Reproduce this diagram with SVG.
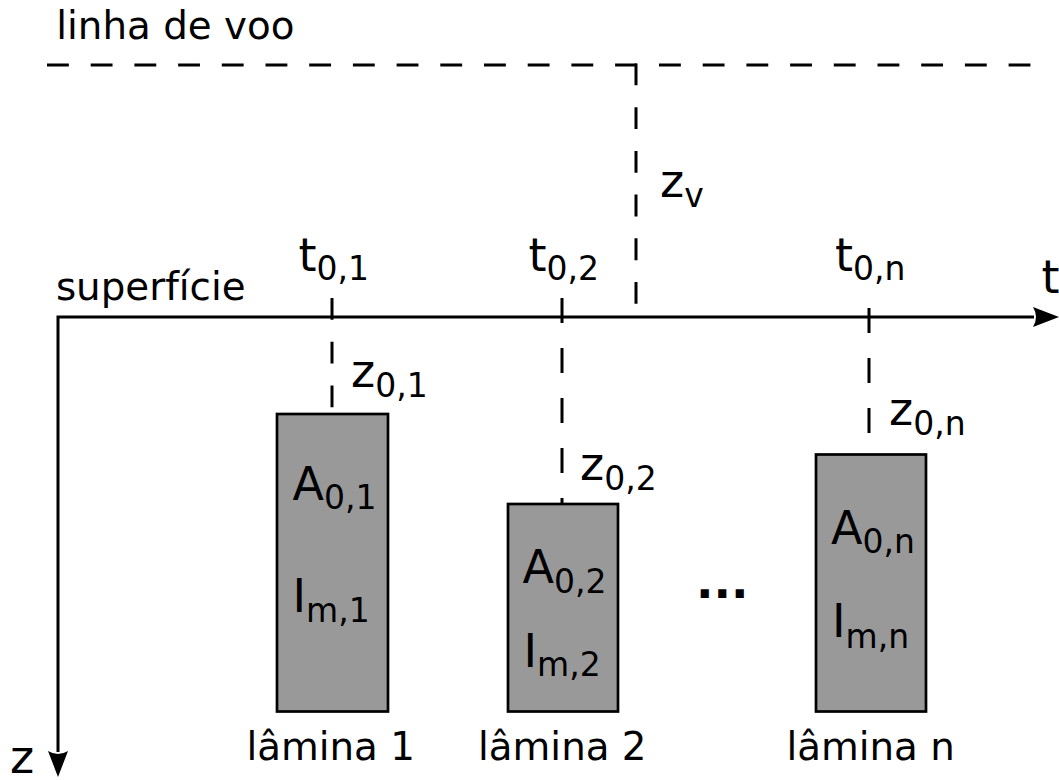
<svg xmlns="http://www.w3.org/2000/svg" width="1059" height="780" viewBox="0 0 1059 780">
<style>
  text { font-family: "DejaVu Sans", "Liberation Sans", sans-serif; fill: #000; }
  .lbl { font-size: 38.8px; }
  .math { font-size: 46px; }
  .sub { font-size: 33px; }
  .dash1 { fill: none; stroke: #000; stroke-width: 3; stroke-dasharray: 21.85 21.85; }
  .dash2 { fill: none; stroke: #000; stroke-width: 3; stroke-dasharray: 25 25; }
  .axis { fill: none; stroke: #000; stroke-width: 3; }
  .blade { fill: #999999; stroke: #000; stroke-width: 2.7; }
</style>
<defs>
  <marker id="arrow" markerUnits="userSpaceOnUse" markerWidth="40" markerHeight="30" refX="0" refY="0" viewBox="-5 -15 40 30" orient="auto-start-reverse" overflow="visible">
    <path d="M-1,-10 L25,0 L-1,10 Q5,0 -1,-10 Z" fill="#000"/>
  </marker>
</defs>
<g id="connectors">
  <path id="flight-left" class="dash1" d="M47,65 H637.5"/>
  <path id="flight-drop" class="dash1" d="M636,63.5 V305"/>
  <path id="flight-right" class="dash1" d="M659,65 H1031"/>
  <path id="axes" class="axis" d="M58,752 V317 H1034" marker-start="url(#arrow)" marker-end="url(#arrow)"/>
  <path id="z01" class="dash1" d="M332,298 V414"/>
  <path id="z02" class="dash2" d="M562,298 V504"/>
  <path id="z0n" class="dash2" d="M869,308 V454"/>
</g>
<g id="labels">
  <text class="lbl" x="56.3" y="38.5">linha de voo</text>
  <text class="lbl" x="55.9" y="300">superfície</text>
  <text class="math" x="1041.5" y="293">t</text>
  <text class="math" x="10" y="773">z</text>
  <text class="math" x="660" y="197">z<tspan class="sub" dy="10">v</tspan></text>
  <text class="math" x="298.5" y="271">t<tspan class="sub" dy="9">0,1</tspan></text>
  <text class="math" x="528.5" y="271">t<tspan class="sub" dy="9">0,2</tspan></text>
  <text class="math" x="835" y="271">t<tspan class="sub" dy="9">0,n</tspan></text>
  <text class="math" x="351" y="387">z<tspan class="sub" dy="10">0,1</tspan></text>
  <text class="math" x="580" y="480">z<tspan class="sub" dy="10">0,2</tspan></text>
  <text class="math" x="889" y="425">z<tspan class="sub" dy="10">0,n</tspan></text>
  <text class="math" x="696" y="598" font-weight="bold">...</text>
</g>
<g id="blade1">
  <rect class="blade" x="277" y="414" width="111" height="297.5"/>
  <text class="math" x="292.5" y="500">A<tspan class="sub" dy="9">0,1</tspan></text>
  <text class="math" x="292.5" y="612">I<tspan class="sub" dy="10">m,1</tspan></text>
  <text class="lbl" x="246.4" y="760">lâmina 1</text>
</g>
<g id="blade2">
  <rect class="blade" x="508" y="504" width="110" height="207.5"/>
  <text class="math" x="522.5" y="583">A<tspan class="sub" dy="10">0,2</tspan></text>
  <text class="math" x="523.5" y="667">I<tspan class="sub" dy="9">m,2</tspan></text>
  <text class="lbl" x="478" y="760">lâmina 2</text>
</g>
<g id="bladen">
  <rect class="blade" x="816" y="454.5" width="110" height="257"/>
  <text class="math" x="831" y="543.5">A<tspan class="sub" dy="9">0,n</tspan></text>
  <text class="math" x="832" y="637">I<tspan class="sub" dy="11">m,n</tspan></text>
  <text class="lbl" x="786.4" y="760">lâmina n</text>
</g>
</svg>
